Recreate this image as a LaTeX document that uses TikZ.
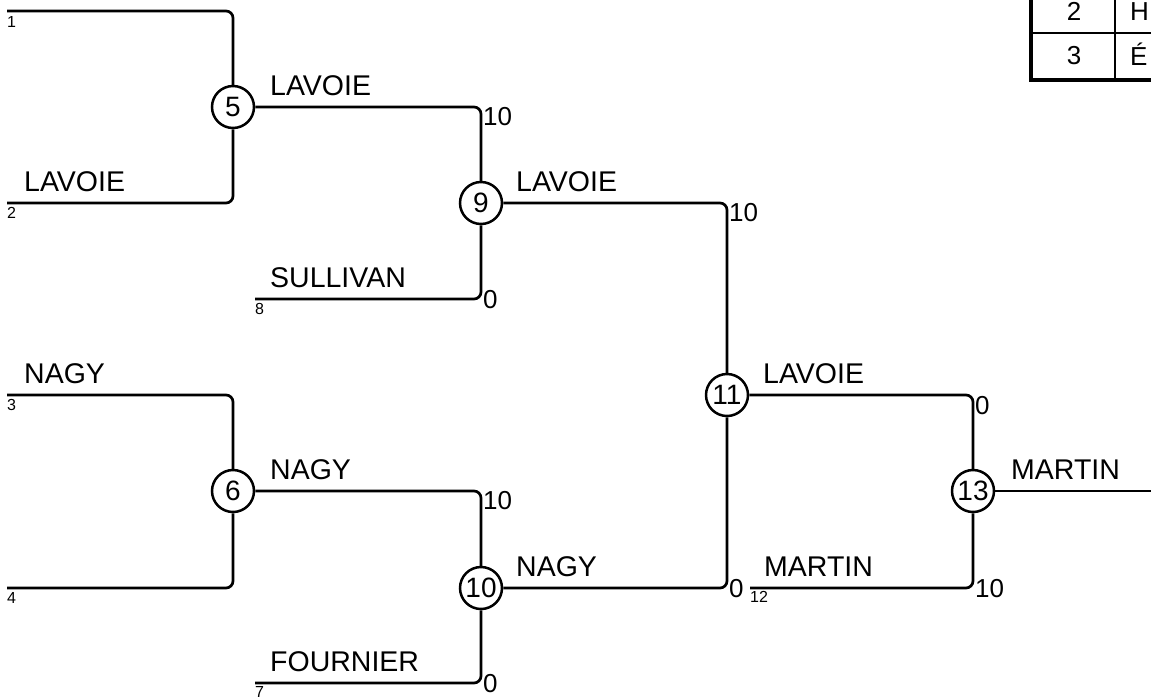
\documentclass[tikz,border=0pt]{standalone}
\usepackage{fontspec}
\setmainfont{Liberation Sans}
\begin{document}
\begin{tikzpicture}[x=1pt,y=-1pt,
  wire/.style={line width=2.7pt,rounded corners=7pt},
  match/.style={circle,draw,line width=2.5pt,minimum size=42pt,inner sep=0pt,fill=white,font=\fontsize{28pt}{30pt}\selectfont},
  lbl/.style={anchor=base west,inner sep=0pt,font=\fontsize{28.5pt}{30pt}\selectfont},
  score/.style={anchor=base west,inner sep=0pt,font=\fontsize{26pt}{28pt}\selectfont},
  seed/.style={anchor=base west,inner sep=0pt,font=\fontsize{16pt}{18pt}\selectfont},
  cell/.style={anchor=center,inner sep=0pt,font=\fontsize{26pt}{28pt}\selectfont},
  celltext/.style={anchor=base west,inner sep=0pt,font=\fontsize{26pt}{28pt}\selectfont},
  thick border/.style={line width=4.5pt},
  thin rule/.style={line width=2pt}]
\useasboundingbox (0,0) rectangle (1151,697);
\clip (0,0) rectangle (1151,697);

% match nodes
\node[match] (n5) at (233,107) {5};
\node[match] (n9) at (481,203) {9};
\node[match] (n6) at (233,491) {6};
\node[match] (n10) at (481,588) {10};
\node[match] (n11) at (727,395) {11};
\node[match] (n13) at (973,491) {13};

% free ends
\coordinate (s1) at (7,11);
\coordinate (s2) at (7,203);
\coordinate (s3) at (7,395);
\coordinate (s4) at (7,588);
\coordinate (s8) at (255,299);
\coordinate (s7) at (255,683);
\coordinate (s12) at (750,588);
\coordinate (e13) at (1160,491);

% connectors
\draw[wire] (s1) -| (n5);
\draw[wire] (s2) -| (n5);
\draw[wire] (n5) -| (n9);
\draw[wire] (s8) -| (n9);
\draw[wire] (n9) -| (n11);
\draw[wire] (s3) -| (n6);
\draw[wire] (s4) -| (n6);
\draw[wire] (n6) -| (n10);
\draw[wire] (s7) -| (n10);
\draw[wire] (n10) -| (n11);
\draw[wire] (n11) -| (n13);
\draw[wire] (s12) -| (n13);
\draw[wire] (n13) -- (e13);

% names
\node[lbl] (t2) at (24,191) {LAVOIE};
\node[lbl] (t3) at (24,383) {NAGY};
\node[lbl] (t5) at (270,95) {LAVOIE};
\node[lbl] (t8) at (270,287) {SULLIVAN};
\node[lbl] (t6) at (270,479) {NAGY};
\node[lbl] (t7) at (270,671) {FOURNIER};
\node[lbl] (t9) at (516,191) {LAVOIE};
\node[lbl] (t10) at (516,576) {NAGY};
\node[lbl] (t11) at (763,383) {LAVOIE};
\node[lbl] (t12) at (764,576) {MARTIN};
\node[lbl] (t13) at (1011,479) {MARTIN};

% scores
\node[score] (c1) at (483,125) {10};
\node[score] (c2) at (483,308) {0};
\node[score] (c3) at (729,221) {10};
\node[score] (c4) at (729,597) {0};
\node[score] (c5) at (483,509) {10};
\node[score] (c6) at (483,692) {0};
\node[score] (c7) at (975,414) {0};
\node[score] (c8) at (975,597) {10};

% seeds
\node[seed] (d1) at (7,27) {1};
\node[seed] (d2) at (7,218) {2};
\node[seed] (d3) at (7,410) {3};
\node[seed] (d4) at (7,603) {4};
\node[seed] (d8) at (255,314) {8};
\node[seed] (d7) at (255,697) {7};
\node[seed] (d12) at (750,602) {12};

% partial table
\draw[thin rule] (1031,33) -- (1160,33);
\draw[thin rule] (1115,-20) -- (1115,80);
\draw[thick border] (1031,-20) -- (1031,80) -- (1170,80);
\node[cell] (r2) at (1074,11) {2};
\node[cell] (r3) at (1074,56) {3};
\node[celltext] (r2b) at (1130,20) {H};
\node[celltext] (r3b) at (1130,65) {É};
\end{tikzpicture}
\end{document}
